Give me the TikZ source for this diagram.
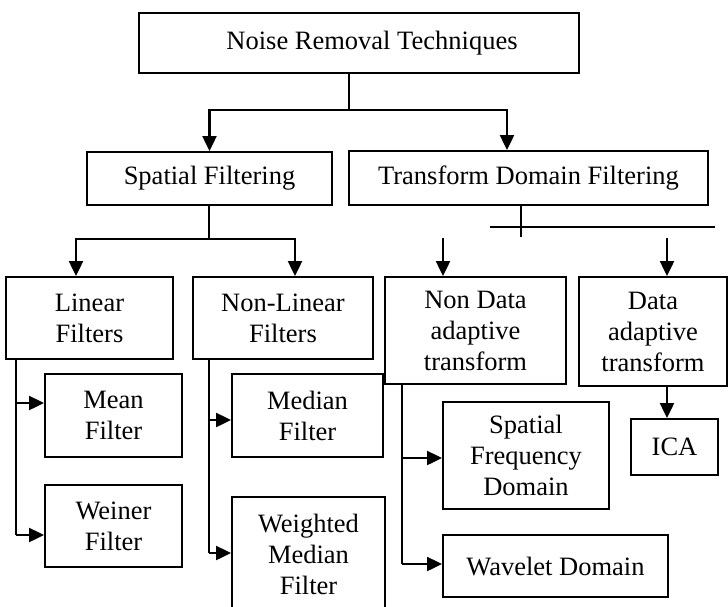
\documentclass[tikz,border=0pt]{standalone}
\usepackage{fontspec}
\setmainfont{Liberation Serif}
\usetikzlibrary{calc,arrows.meta}
\tikzset{
  tbox/.style={draw,line width=1.9pt,align=center,inner sep=0pt,
    font=\fontsize{26.5}{31}\selectfont},
  arr/.style={line width=2.2pt,-{Triangle[width=14pt,length=15pt]}},
  ln/.style={line width=2pt}
}
\begin{document}
\begin{tikzpicture}[x=1pt,y=-1pt]
\clip (0,0) rectangle (728,606);

\node[tbox,minimum width=440pt,minimum height=60pt] (nrt) at (359,43) {\hspace*{26pt}Noise Removal Techniques};

\node[tbox,minimum width=245pt,minimum height=53pt] (spat) at (209.5,178.5) {Spatial Filtering};
\node[tbox,minimum width=359pt,minimum height=54pt] (tdf) at (528.5,178) {Transform Domain Filtering};

\node[tbox,minimum width=167pt,minimum height=82pt] (lin) at (89.5,318) {Linear\\Filters};
\node[tbox,minimum width=180pt,minimum height=82pt] (nlin) at (283,318) {Non-Linear\\Filters};
\node[tbox,minimum width=181pt,minimum height=107pt] (nda) at (475.5,330.5) {Non Data\\adaptive\\transform};
\node[tbox,minimum width=148pt,minimum height=109pt] (da) at (653,331.5) {Data\\adaptive\\transform};

\node[tbox,minimum width=137pt,minimum height=83pt] (mean) at (113.5,415.5) {Mean\\Filter};
\node[tbox,minimum width=137pt,minimum height=82pt] (wein) at (113.5,526) {Weiner\\Filter};
\node[tbox,minimum width=151pt,minimum height=83pt] (med) at (307.5,415.5) {Median\\Filter};
\node[tbox,minimum width=153pt,minimum height=115pt] (wmed) at (308.5,554.5) {Weighted\\Median\\Filter};
\node[tbox,minimum width=166pt,minimum height=107pt] (sfd) at (526,455.5) {Spatial\\Frequency\\Domain};
\node[tbox,minimum width=225pt,minimum height=62pt] (wav) at (555.5,566) {Wavelet Domain};
\node[tbox,minimum width=87pt,minimum height=56pt] (ica) at (674.5,447) {ICA};

% top level
\coordinate (j1) at (349,110);
\draw[ln] (nrt.south -| j1) -- (j1);
\draw[arr] (j1) -| (spat.north);
\draw[arr] (j1) -| ([xshift=-21.5pt]tdf.north);

% spatial filtering
\coordinate (j2) at (209,239);
\draw[ln] (spat.south -| j2) -- (j2);
\draw[arr] (j2) -| ([xshift=-13.5pt]lin.north);
\draw[arr] (j2) -| ([xshift=12pt]nlin.north);

% transform domain
\coordinate (j3) at (521,237);
\coordinate (h1) at (490,227);
\coordinate (h2) at (715,227);
\coordinate (a1) at (443,238);
\coordinate (a2) at (667,238);
\draw[ln] (tdf.south -| j3) -- (j3);
\draw[ln] (h1) -- (h2);
\draw[arr] (a1) -- (nda.north -| a1);
\draw[arr] (a2) -- (da.north -| a2);
\draw[arr] (da.south -| a2) -- (ica.north -| a2);

% linear filters
\coordinate (t1) at (16,535);
\draw[ln] (lin.south -| t1) -- (t1);
\draw[arr] ([yshift=12.5pt]mean.west -| t1) -- ([yshift=12.5pt]mean.west);
\draw[arr] (t1) -- (wein.west |- t1);

% non-linear filters
\coordinate (t2) at (209,553);
\draw[ln] (nlin.south -| t2) -- (t2);
\draw[arr] ([yshift=-4.5pt]med.west -| t2) -- ([yshift=-4.5pt]med.west);
\draw[arr] (t2) -- (wmed.west |- t2);

% non data adaptive
\coordinate (t3) at (402,564);
\draw[ln] (nda.south -| t3) -- (t3);
\draw[arr] ([yshift=-2.5pt]sfd.west -| t3) -- ([yshift=-2.5pt]sfd.west);
\draw[arr] (t3) -- (wav.west |- t3);
\end{tikzpicture}
\end{document}
